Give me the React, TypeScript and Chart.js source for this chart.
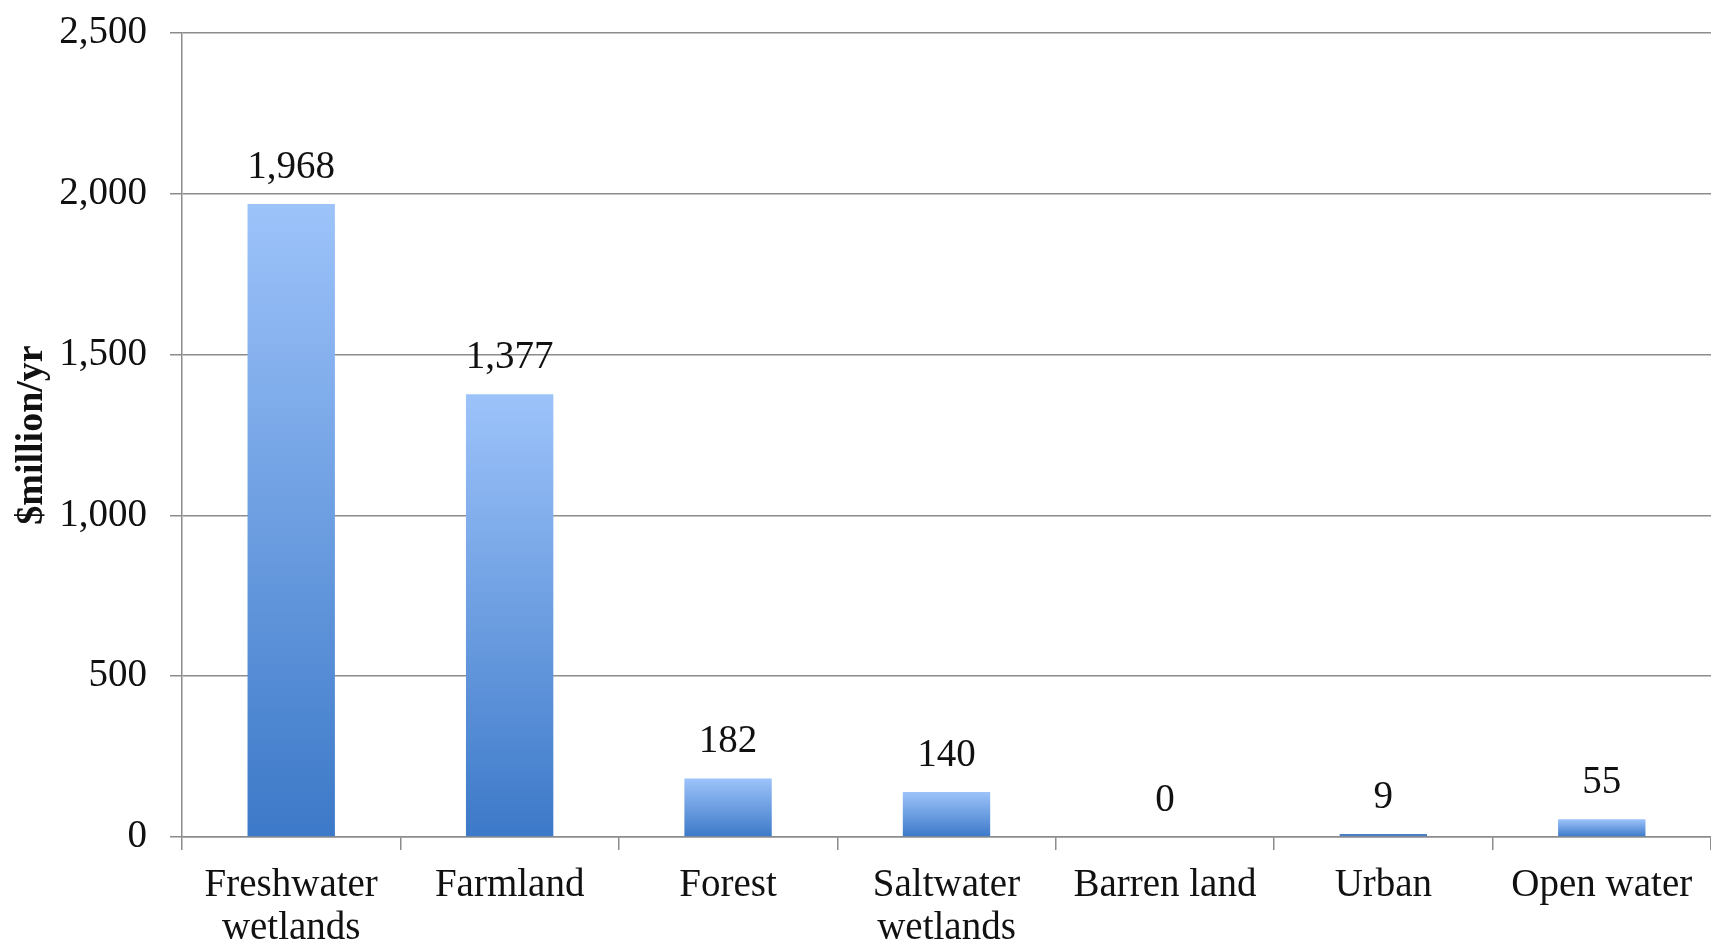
import React, { useEffect, useRef } from "react";
import { Chart, registerables } from "chart.js";

Chart.register(...registerables);

const categories: (string | string[])[] = [
  ["Freshwater", "wetlands"],
  "Farmland",
  "Forest",
  ["Saltwater", "wetlands"],
  "Barren land",
  "Urban",
  "Open water",
];
const values: number[] = [1968, 1377, 182, 140, 0, 9, 55];
const yTicks: number[] = [0, 500, 1000, 1500, 2000, 2500];
const yTitle = "$million/yr";

const FONT = "'Liberation Serif', 'Times New Roman', serif";

const dataLabelPlugin = {
  id: "dataLabels",
  afterDatasetsDraw(chart: any) {
    const ctx = chart.ctx;
    const meta = chart.getDatasetMeta(0);
    ctx.save();
    ctx.font = `39px ${FONT}`;
    ctx.fillStyle = "#111";
    ctx.textAlign = "center";
    ctx.textBaseline = "alphabetic";
    meta.data.forEach((bar: any, i: number) => {
      const v = values[i];
      ctx.fillText(v.toLocaleString("en-US"), bar.x, bar.y - 26);
    });
    ctx.restore();
  },
};

export default function App() {
  const canvasRef = useRef<HTMLCanvasElement | null>(null);

  useEffect(() => {
    document.body.style.margin = "0";
    const canvas = canvasRef.current;
    if (!canvas) return;
    const chart = new Chart(canvas, {
      type: "bar",
      data: {
        labels: categories,
        datasets: [
          {
            data: values,
            barPercentage: 0.4,
            categoryPercentage: 1,
            backgroundColor: (c: any) => {
              const ch = c.chart;
              if (!ch.chartArea || c.type !== "data" || !c.parsed) return "#6a9ee6";
              const ys = ch.scales.y;
              const top = ys.getPixelForValue(c.parsed.y);
              const base = ys.getPixelForValue(0);
              if (base - top < 6) return "#4a7fc4";
              const g = ch.ctx.createLinearGradient(0, top, 0, base);
              g.addColorStop(0, "#9DC3FA");
              g.addColorStop(1, "#3C79C8");
              return g;
            },
            borderWidth: 0,
          },
        ],
      },
      options: {
        animation: false,
        responsive: true,
        maintainAspectRatio: false,
        locale: "en-US",
        layout: { padding: { top: 33, right: 0, bottom: 0, left: 0 } },
        plugins: {
          legend: { display: false },
          tooltip: { enabled: false },
        },
        scales: {
          x: {
            offset: true,
            grid: {
              offset: true,
              drawOnChartArea: false,
              drawTicks: true,
              tickLength: 13,
              color: "#8c8c8c",
              lineWidth: 1.5,
            },
            border: { color: "#8c8c8c", width: 1.5 },
            ticks: {
              color: "#111",
              font: { family: FONT, size: 39, lineHeight: 1.1 },
              padding: 14,
              maxRotation: 0,
              autoSkip: false,
            },
            afterFit: (s: any) => {
              s.height = 108;
              s.paddingLeft = 0;
              s.paddingRight = 0;
            },
          },
          y: {
            min: 0,
            max: 2500,
            afterBuildTicks: (s: any) => {
              s.ticks = yTicks.map((v) => ({ value: v }));
            },
            grid: {
              color: "#8c8c8c",
              lineWidth: 1.5,
              tickLength: 12,
            },
            border: { color: "#8c8c8c", width: 1.5 },
            ticks: {
              color: "#111",
              font: { family: FONT, size: 39 },
              padding: 23,
            },
            title: {
              display: true,
              text: yTitle,
              color: "#111",
              font: { family: FONT, size: 38, weight: "bold" },
              padding: { top: 9, bottom: 0 },
            },
            afterFit: (s: any) => {
              s.width = 182;
              s.paddingTop = 0;
              s.paddingBottom = 0;
            },
          },
        },
      },
      plugins: [dataLabelPlugin],
    });
    return () => chart.destroy();
  }, []);

  return (
    <div style={{ width: 1711, height: 945, position: "relative" }}>
      <canvas ref={canvasRef} />
    </div>
  );
}
